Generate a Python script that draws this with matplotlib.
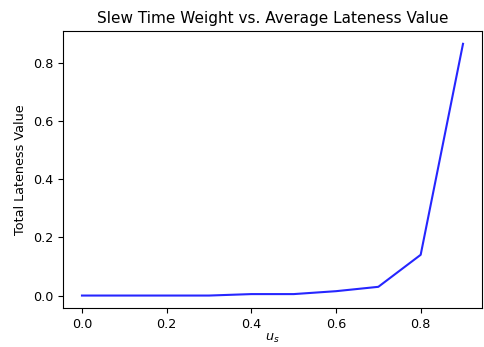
import matplotlib
matplotlib.use("Agg")
import matplotlib.pyplot as plt

# slew time weight values and resulting lateness
weights = [0.0, 0.1, 0.2, 0.3, 0.4, 0.5, 0.6, 0.7, 0.8, 0.9]
lateness = [0.0, 0.0, 0.0, 0.0, 0.005, 0.005, 0.015, 0.03, 0.14, 0.865]

plt.rcParams["font.size"] = 9.2
plt.rcParams["axes.titlesize"] = 11.0

fig = plt.figure(figsize=(4.84, 3.47), dpi=100)
ax = fig.add_axes([0.130, 0.112, 0.866, 0.798])
ax.plot(weights, lateness, color="blue", alpha=0.85, linewidth=1.5)
ax.set_xlabel("$u_s$", labelpad=1)
ax.set_ylabel("Total Lateness Value")
ax.set_title("Slew Time Weight vs. Average Lateness Value")
fig.savefig("out.png", dpi=100)
